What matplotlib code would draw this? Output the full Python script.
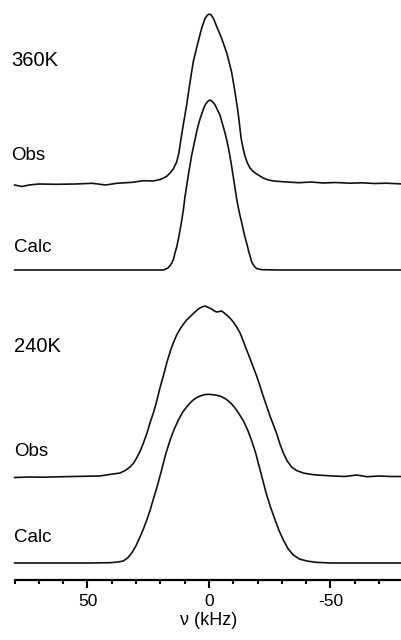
import numpy as np
import matplotlib
matplotlib.use("Agg")
import matplotlib.pyplot as plt
from matplotlib.ticker import MultipleLocator

plt.rcParams['font.family'] = ['Liberation Sans', 'DejaVu Sans']

# spectra: frequency (kHz) and intensity (arbitrary units)
nu_obs_360 = [80, 77, 74, 70, 63, 55, 48, 42.5, 38, 31.5, 27, 23, 21, 19.5, 17.5,
              16.0, 14.7, 13.3, 12.4, 11.6, 10.6, 9.2, 7.8, 6.5, 4.8, 3.0, 1.6,
              0.6, -0.1, -0.9, -1.8, -3.2, -5.2, -7.3, -9.3, -10.7, -12.1, -13.2,
              -14.0, -14.8, -15.8, -16.9, -18.2, -19.6, -22.3, -24.5, -26.5, -32,
              -37, -42, -47, -52, -58, -63, -68, -73, -80]
int_obs_360 = [-1, -2.5, -1, 0, -0.3, 0, 0.7, -1, 0.7, 1.7, 3.3, 3, 4, 5, 7.5,
               11, 15, 22, 31, 44, 59, 79, 102, 122, 139, 156, 165.7,
               169, 170, 169, 165.7, 157.3, 145.7, 131, 112, 92, 69, 46,
               36, 28, 21, 16, 12.5, 10, 6, 4, 3, 2,
               1.3, 2.0, 1.0, 1.5, 0.8, 1.2, 0.5, 0.8, 0]

nu_calc_360 = [80, 50, 28.4, 18.8, 17.8, 16.9, 16.0, 15.3, 14.6, 14.0, 13.3, 12.6,
               11.9, 11.2, 10.5, 9.9, 9.2, 8.5, 7.8, 7.2, 6.5, 5.8, 5.1, 4.4, 3.7,
               3.0, 2.3, 1.6, 0.6, -0.4, -1.4, -2.5, -3.5, -4.5, -5.2, -5.9, -6.6,
               -7.3, -8.0, -8.6, -9.3, -10.0, -10.7, -11.4, -12.1, -12.8, -13.5,
               -14.2, -14.9, -15.6, -16.3, -17.0, -17.6, -18.3, -18.9, -19.6,
               -20.3, -22, -29.2, -50, -80]
int_calc_360 = [0, 0, 0, 0, 1, 2, 4.5, 7, 11, 17, 23, 31,
                40, 50, 61, 73, 84, 95, 105, 114, 122, 130, 138, 145, 151,
                156, 161, 165, 168.5, 170, 168.5, 165, 160, 155, 149, 143, 137,
                130, 122, 114, 104, 93, 82, 71, 62, 54, 47,
                39, 32, 26, 19, 13, 8, 5, 3, 1.5,
                1, 0.3, 0, 0, 0]

nu_obs_240 = [80, 74, 68, 62, 56, 50, 45, 41, 36.6, 34.5, 32.5, 31, 29.8, 28.3,
              27.0, 25.5, 24.3, 22.9, 21.5, 20.2, 18.8, 17.4, 15.9, 14.7, 13.3,
              11.9, 10.5, 9.2, 7.5, 5.8, 4.4, 3.0, 1.6, 0.3, -1.1, -2.2, -3.2,
              -4.2, -5.2, -6.3, -7.5, -8.8, -10.0, -11.4, -12.8, -14.1, -15.5,
              -16.8, -18.2, -19.6, -21.0, -22.3, -23.7, -25.1, -26.5, -27.9,
              -29.2, -30.6, -32.2, -34.0, -36, -38.8, -41.5, -44.3, -51, -56,
              -60.8, -65, -70, -75, -80]
int_obs_240 = [-1.5, -1, -1.2, -0.8, -0.5, -0.2, 0, 1.5, 3, 5.5, 9, 13, 18, 25,
               33, 43, 53, 63, 75, 88, 100, 113, 125, 133, 141,
               147, 152, 156, 160, 164, 167, 169, 170, 168.5, 167, 165, 164,
               164.5, 165, 163, 160.5, 157.5, 154, 149, 143, 135, 126,
               118, 109, 100, 90, 80, 70, 60, 51, 42,
               32, 23, 15, 9, 5.5, 3, 1.8, 1, 0, -0.5,
               1, -0.7, 0, -0.5, -0.5]

nu_calc_240 = [80, 60, 49, 40.7, 37.5, 35.3, 33.5, 31.8, 30.1, 28.4, 27.0, 25.6,
               24.2, 22.9, 21.5, 19.5, 17.8, 16.0, 14.3, 12.6, 10.8, 9.2, 7.8,
               6.5, 5.0, 3.7, 2.0, 0.3, -1.5, -3.2, -5.0, -6.6, -8.0, -9.3, -10.7,
               -12.4, -14.2, -15.9, -17.6, -19.2, -20.6, -22.0, -23.5, -25.3,
               -27.2, -28.9, -30.6, -32.6, -34.7, -37.2, -40.2, -44, -49.8, -60,
               -80]
int_calc_240 = [0, 0, 0, 0.3, 1, 2, 5, 10, 17, 26, 34, 43,
                53, 64, 75, 93, 109, 123, 134, 143, 151, 156, 160,
                163, 165.5, 167, 168.3, 168.7, 168.3, 167.8, 166.5, 164.5, 162,
                159, 155, 149, 142, 133, 122, 110, 97, 84, 70, 56,
                43, 32, 23, 14, 8, 4, 2, 0.7, 0, 0,
                0]

tick_values = [50, 0, -50]
tick_labels = ['50', '0', '-50']

# vertical stacking of the four traces (baseline heights above the axis)
offsets = {'obs_360': 396, 'calc_360': 310, 'obs_240': 104, 'calc_240': 17}

W, H = 402, 640
fig = plt.figure(figsize=(W / 100, H / 100), dpi=100)
ax = fig.add_axes([14.6 / W, 60 / H, 388.8 / W, 580 / H])

traces = [
    (nu_obs_360, int_obs_360, offsets['obs_360']),
    (nu_calc_360, int_calc_360, offsets['calc_360']),
    (nu_obs_240, int_obs_240, offsets['obs_240']),
    (nu_calc_240, int_calc_240, offsets['calc_240']),
]
for nu, inten, off in traces:
    ax.plot(nu, np.array(inten) + off, color='#111111', lw=1.2,
            solid_joinstyle='round', clip_on=False)

ax.set_xlim(80, -80)
ax.set_ylim(0, 580)
for s in ['top', 'left', 'right']:
    ax.spines[s].set_visible(False)
ax.spines['bottom'].set_linewidth(1.6)
ax.set_yticks([])
ax.set_xticks(tick_values)
ax.set_xticklabels(tick_labels, fontsize=12.5)
ax.xaxis.set_minor_locator(MultipleLocator(10))
ax.tick_params(axis='x', which='major', direction='out', length=6, width=1.5, pad=4)
ax.tick_params(axis='x', which='minor', direction='out', length=3, width=1.5)
ax.set_xlabel('ν (kHz)', fontsize=13, labelpad=2)

labels = [('360K', 11, 61), ('Obs', 11, 155), ('Calc', 14, 247),
          ('240K', 14, 347), ('Obs', 14, 451), ('Calc', 14, 537)]
for txt, px, py in labels:
    fig.text(px / W, 1 - py / H, txt, fontsize=14.5 if 'K' in txt else 13.5,
             ha='left', va='center')

fig.savefig('out.png', dpi=100)
